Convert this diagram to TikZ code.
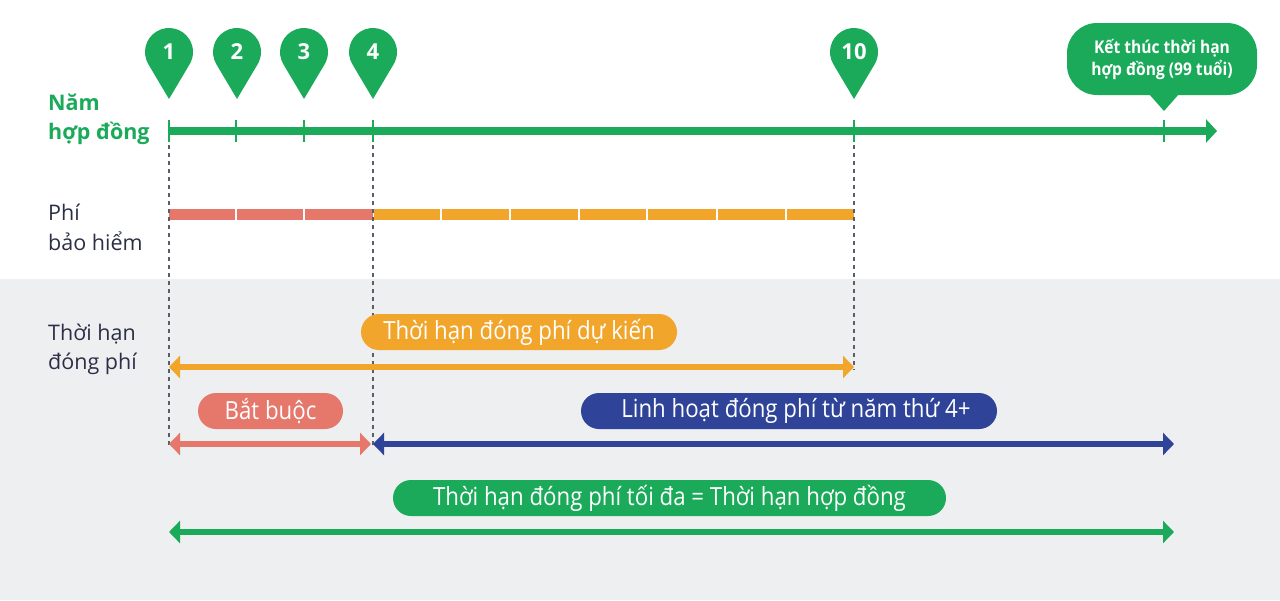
\documentclass[tikz,border=0pt]{standalone}
\usepackage{fontspec}
\setmainfont{Open Sans}
\newfontfamily\condfont{Open Sans}[FakeStretch=0.89]
\usetikzlibrary{arrows.meta}
\definecolor{cgreen}{HTML}{1AAA5A}
\definecolor{corange}{HTML}{F2A52B}
\definecolor{cred}{HTML}{E5776B}
\definecolor{cblue}{HTML}{2F4499}
\definecolor{cnavy}{HTML}{2B2F45}
\definecolor{cbg}{HTML}{EEEFF1}
\definecolor{cdash}{HTML}{5A5E6B}
\tikzset{
  lbl/.style={anchor=base west, inner sep=0pt, text=cnavy, font=\fontsize{21.5}{26}\selectfont},
  lblg/.style={anchor=base west, inner sep=0pt, text=cgreen, font=\bfseries\fontsize{21.5}{26}\selectfont},
  pill/.style={rounded corners=18pt, minimum height=36pt, inner sep=0pt, text=white, font=\condfont\fontsize{25}{28}\selectfont},
  vdash/.style={draw=cdash, line width=1.3pt, dash pattern=on 4pt off 4pt},
  span/.style={line width=6pt, {Triangle[length=11pt,width=22pt]}-{Triangle[length=11pt,width=22pt]}},
  ticks/.style={draw=cgreen, line width=2.5pt},
  bubble/.style={fill=cgreen, rounded corners=30pt, minimum width=190pt, minimum height=72pt, align=center, text=white, inner sep=0pt, font=\condfont\bfseries\fontsize{17.5}{22}\selectfont},
  pin/.pic={
    \fill[cgreen] (0,47) -- (149.3:24) arc[start angle=149.3,end angle=390.7,radius=24] -- cycle;
    \node[text=white, inner sep=0pt, font=\bfseries\fontsize{22}{24}\selectfont] (-num) at (0,0) {#1};
  }
}
\begin{document}
\begin{tikzpicture}[x=1pt,y=-1pt]
\useasboundingbox (0,0) rectangle (1280,600);
\fill[cbg] (0,279) rectangle (1280,600);

% key coordinates on the timeline
\coordinate (t1) at (169,131);
\coordinate (t2) at (236,131);
\coordinate (t3) at (304,131);
\coordinate (t4) at (373,131);
\coordinate (t10) at (854,131);
\coordinate (t99) at (1164,131);
\coordinate (tend) at (1217,131);

% left labels
\node[lblg] (nam1) at (48,110.5) {Năm};
\node[lblg] (nam2) at (48,139) {hợp đồng};
\node[lbl] (phi1) at (48,220) {Phí};
\node[lbl] (phi2) at (48,250) {bảo hiểm};
\node[lbl] (th1) at (48,340.5) {Thời hạn};
\node[lbl] (th2) at (48,369) {đóng phí};

% premium bar
\foreach \a/\b in {169/235,237/303,305/373}
  \fill[cred] (\a,209) rectangle (\b,220);
\foreach \a/\b in {374/440,442/509,511/578,580/646,648/716,718/785,787/854}
  \fill[corange] (\a,209) rectangle (\b,220);

% dashed guides
\coordinate (d1) at (169,445);
\coordinate (d4) at (373,445);
\coordinate (d10) at (854,370);
\draw[vdash] ([yshift=10pt]t1) -- (d1);
\draw[vdash] ([yshift=10pt]t4) -- (d4);
\draw[vdash] ([yshift=10pt]t10) -- (d10);

% timeline
\draw[cgreen, line width=7.5pt, -{Triangle[length=11pt,width=23pt]}] (t1) -- (tend);
\foreach \t in {t1,t2,t3,t4,t10,t99}
  \draw[ticks] (\t) ++(0,-11) -- ++(0,22);

% pins
\pic (p1) at (169,52) {pin=1};
\pic (p2) at (237,52) {pin=2};
\pic (p3) at (304,52) {pin=3};
\pic (p4) at (373,52) {pin=4};
\pic (p10) at (854,52) {pin=10};

% end bubble
\node[bubble] (endlbl) at (1162,59) {Kết thúc thời hạn\\hợp đồng (99 tuổi)};
\coordinate (ptr) at (1164,111);
\fill[cgreen] (1149,94) -- (ptr) -- (1179,94) -- cycle;

% spans
\coordinate (oa) at (169,367); \coordinate (ob) at (854,367);
\coordinate (ra) at (169,444); \coordinate (rb) at (371,444);
\coordinate (ba) at (373,444); \coordinate (bb) at (1174,444);
\coordinate (ga) at (169,532); \coordinate (gb) at (1174,532);
\draw[span, corange] (oa) -- (ob);
\draw[span, cred] (ra) -- (rb);
\draw[span, cblue] (ba) -- (bb);
\draw[span, cgreen] (ga) -- (gb);

% pills
\node[pill, fill=corange, minimum width=316pt] (po) at (519,332) {Thời hạn đóng phí dự kiến};
\node[pill, fill=cred, minimum width=145pt] (pr) at (270.5,411) {Bắt buộc};
\node[pill, fill=cblue, minimum width=416pt] (pb) at (789,411) {\hspace*{14pt}Linh hoạt đóng phí từ năm thứ 4+};
\node[pill, fill=cgreen, minimum width=553pt] (pg) at (669.5,498) {Thời hạn đóng phí tối đa = Thời hạn hợp đồng};
\end{tikzpicture}
\end{document}
